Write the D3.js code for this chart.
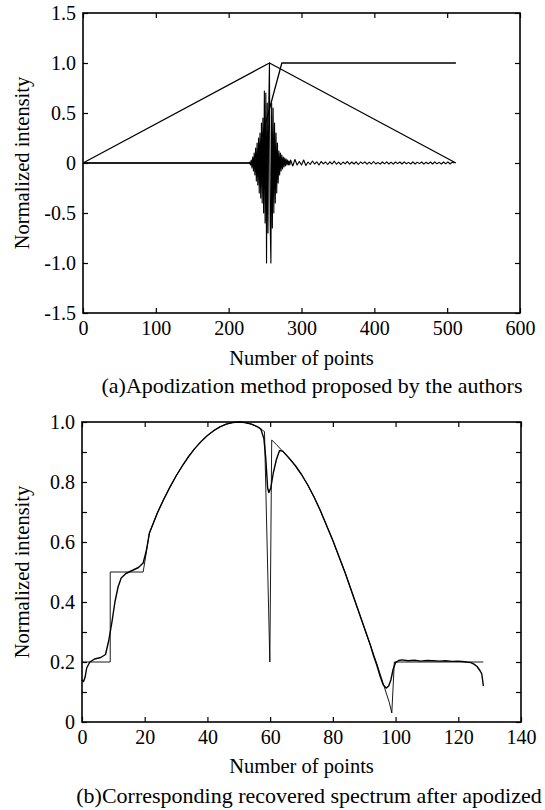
<!DOCTYPE html>
<html>
<head>
<meta charset="utf-8">
<script src="https://d3js.org/d3.v7.min.js"></script>
<style>
  body { margin: 0; background: #fff; }
  svg { display: block; background: #fff; }
</style>
</head>
<body>
<svg id="fig"></svg>
<script>
// ---------- (a) apodization functions + interferogram ----------
const triangleX = [0, 256, 512];
const triangleY = [0, 1, 0];

const rampX = [0, 236, 273, 512];
const rampY = [0, 0, 1, 1];

// interferogram: flat zero, then centre burst (1 point steps), then small tail (3 point steps)
const ifgLeadX = [0];
const ifgLeadY = [0];
const burstStart = 228;
const burstY = [
  0, 0.01, -0.02, 0.03, -0.05, 0.06, -0.08, 0.1, -0.12, 0.15,
  -0.18, 0.2, -0.22, 0.25, -0.3, 0.3, -0.35, 0.4, -0.4, 0.45,
  -0.5, 0.72, -0.6, 0.7, -1.0, 0.6, -0.7, 0.55, 1.0, -0.6,
  -1.0, 0.6, -0.65, 0.55, -0.5, 0.4, -0.4, 0.3, -0.3, 0.2,
  -0.2, 0.12, -0.12, 0.1, -0.08, 0.08, -0.06, 0.06, -0.04, 0.05,
  -0.03, 0.04, -0.02, 0.03, -0.02, 0.02, -0.02
];
const tailStart = 285;
const tailStep = 3;
const tailY = [
  0.03, -0.03, 0.035, -0.02, 0.015, -0.02, 0.03, -0.025, 0.01, -0.015,
  0.02, -0.01, 0.012, -0.02, 0.015, -0.008, 0.01, -0.015, 0.012, -0.01,
  0.018, -0.012, 0.008, -0.015, 0.01, -0.008, 0.015, -0.012, 0.01, -0.01,
  0.012, -0.015, 0.01, -0.006, 0.012, -0.012, 0.008, -0.01, 0.015, -0.01,
  0.006, -0.012, 0.01, -0.008, 0.012, -0.01, 0.008, -0.012, 0.01, -0.006,
  0.01, -0.01, 0.012, -0.008, 0.006, -0.01, 0.012, -0.01, 0.008, -0.006,
  0.01, -0.012, 0.008, -0.008, 0.01, -0.01, 0.012, -0.008, 0.006, -0.01,
  0.01, -0.008, 0.012, -0.01, 0.008, 0
];

const xTicksA = [0, 100, 200, 300, 400, 500, 600];
const yTicksA = [-1.5, -1.0, -0.5, 0, 0.5, 1.0, 1.5];
const yLabelsA = ["-1.5", "-1.0", "-0.5", "0", "0.5", "1.0", "1.5"];

// ---------- (b) original and recovered spectrum ----------
const originalX = [0, 9, 9, 19.5, 21.5, 24, 26, 28, 30, 32, 34, 36, 38, 40, 42, 44, 46, 48, 50,
  52, 54, 56, 58.2, 59.9, 60.5, 62, 63.6, 66, 68, 70, 72, 74, 76, 78, 80, 82, 84, 86, 88, 90,
  92, 94, 96, 98, 98.8, 99.6, 128];
const originalY = [0.2, 0.2, 0.5, 0.5, 0.63, 0.696, 0.741, 0.782, 0.82, 0.854, 0.885, 0.912, 0.935, 0.955, 0.971, 0.984, 0.993, 0.998, 1.0,
  0.998, 0.993, 0.984, 0.968, 0.2, 0.94, 0.925, 0.907, 0.88, 0.855, 0.825, 0.79, 0.75, 0.705, 0.655, 0.605, 0.55, 0.495, 0.435, 0.375, 0.315,
  0.255, 0.195, 0.13, 0.065, 0.03, 0.2, 0.2];

const recoveredX = [0, 0.5, 1, 1.5, 2.5, 4, 6, 7.5, 8.5, 9.5, 10.5, 11.5, 12.5, 14, 16, 18, 19.5, 20.5, 21.5,
  24, 26, 28, 30, 32, 34, 36, 38, 40, 42, 44, 46, 48, 50, 52, 54, 56, 57, 58, 58.6, 59.2, 59.6, 60.2,
  61, 62, 63, 64, 66, 68, 70, 72, 74, 76, 78, 80, 82, 84, 86, 88, 90, 92, 93, 94, 95, 96, 97, 97.8,
  98.5, 99.2, 100, 101, 102, 104, 106, 108, 110, 112, 114, 116, 118, 120, 122, 124, 125, 126, 127, 127.5, 128];
const recoveredY = [0.14, 0.135, 0.15, 0.18, 0.2, 0.21, 0.215, 0.225, 0.27, 0.33, 0.4, 0.45, 0.48, 0.495, 0.505, 0.515, 0.53, 0.57, 0.63,
  0.696, 0.741, 0.782, 0.82, 0.854, 0.885, 0.912, 0.935, 0.955, 0.971, 0.984, 0.993, 0.998, 1.0, 0.998, 0.993, 0.984, 0.977, 0.945, 0.88, 0.78, 0.765, 0.78,
  0.83, 0.875, 0.905, 0.903, 0.88, 0.855, 0.825, 0.79, 0.75, 0.705, 0.655, 0.605, 0.55, 0.495, 0.435, 0.375, 0.315, 0.255, 0.22, 0.19, 0.155, 0.125, 0.113, 0.12,
  0.14, 0.175, 0.198, 0.205, 0.207, 0.204, 0.206, 0.203, 0.205, 0.204, 0.203, 0.204, 0.202, 0.203, 0.201, 0.198, 0.193, 0.185, 0.17, 0.16, 0.12];

const xTicksB = [0, 20, 40, 60, 80, 100, 120, 140];
const yTicksB = [0, 0.1, 0.2, 0.3, 0.4, 0.5, 0.6, 0.7, 0.8, 0.9, 1.0];
const yLabelsB = ["0", "", "0.2", "", "0.4", "", "0.6", "", "0.8", "", "1.0"];

// ---------- drawing ----------
const W = 545, H = 810;
const FONT = "'Liberation Serif', 'Times New Roman', serif";

const svg = d3.select("#fig").attr("width", W).attr("height", H);
svg.append("rect").attr("width", W).attr("height", H).attr("fill", "#fff");

function drawPanel(p) {
  const x = d3.scaleLinear().domain(p.xDomain).range([p.left, p.right]);
  const y = d3.scaleLinear().domain(p.yDomain).range([p.bottom, p.top]);
  const g = svg.append("g");
  const tick = 5;

  // bottom axis with labels, ticks pointing inward
  const bottom = g.append("g")
    .attr("transform", `translate(0,${p.bottom})`)
    .call(d3.axisBottom(x).tickValues(p.xTicks).tickSize(-tick).tickPadding(8)
      .tickFormat(d3.format("d")));
  // top axis, ticks only
  const top = g.append("g")
    .attr("transform", `translate(0,${p.top})`)
    .call(d3.axisTop(x).tickValues(p.xTicks).tickSize(-tick).tickFormat(""));
  // left axis with labels
  const left = g.append("g")
    .attr("transform", `translate(${p.left},0)`)
    .call(d3.axisLeft(y).tickValues(p.yTicks).tickSize(-tick).tickPadding(7)
      .tickFormat((d, i) => p.yLabels[i]));
  // right axis, ticks only
  const right = g.append("g")
    .attr("transform", `translate(${p.right},0)`)
    .call(d3.axisRight(y).tickValues(p.yTicks).tickSize(-tick).tickFormat(""));

  [bottom, top, left, right].forEach((a) => {
    a.select(".domain").remove();
    a.selectAll("line").attr("stroke", "#000").attr("stroke-width", 1.2);
    a.selectAll("text")
      .attr("fill", "#000")
      .style("font-family", FONT)
      .style("font-size", "20px");
  });

  // frame
  g.append("rect")
    .attr("x", p.left).attr("y", p.top)
    .attr("width", p.right - p.left).attr("height", p.bottom - p.top)
    .attr("fill", "none").attr("stroke", "#000").attr("stroke-width", 1.6);

  // series
  const line = d3.line().x((d) => x(d[0])).y((d) => y(d[1]));
  p.series.forEach((s) => {
    g.append("path")
      .datum(s.points)
      .attr("d", line)
      .attr("fill", "none")
      .attr("stroke", "#000")
      .attr("stroke-width", s.width)
      .attr("stroke-linejoin", "round");
  });

  // axis titles and caption
  g.append("text")
    .attr("transform", `translate(${p.yTitleX},${(p.top + p.bottom) / 2}) rotate(-90)`)
    .attr("text-anchor", "middle")
    .style("font-family", FONT).style("font-size", "20.5px")
    .text("Normalized intensity");
  g.append("text")
    .attr("x", (p.left + p.right) / 2).attr("y", p.xTitleY)
    .attr("text-anchor", "middle")
    .style("font-family", FONT).style("font-size", "20.5px")
    .text("Number of points");
  g.append("text")
    .attr("x", p.captionX).attr("y", p.captionY)
    .attr("text-anchor", "middle")
    .style("font-family", FONT).style("font-size", "22px")
    .text(p.caption);
}

const zip = (xs, ys) => xs.map((v, i) => [v, ys[i]]);

const ifgPoints = zip(ifgLeadX, ifgLeadY)
  .concat(burstY.map((v, i) => [burstStart + i, v]))
  .concat(tailY.map((v, i) => [tailStart + i * tailStep, v]));

drawPanel({
  xDomain: [0, 600], yDomain: [-1.5, 1.5],
  left: 83, right: 520, top: 13, bottom: 313,
  xTicks: xTicksA, yTicks: yTicksA, yLabels: yLabelsA,
  yTitleX: 29, xTitleY: 365, captionX: 312, captionY: 393,
  caption: "(a)Apodization method proposed by the authors",
  series: [
    { points: zip(triangleX, triangleY), width: 1.3 },
    { points: zip(rampX, rampY), width: 1.3 },
    { points: ifgPoints, width: 1.1 }
  ]
});

drawPanel({
  xDomain: [0, 140], yDomain: [0, 1],
  left: 82, right: 521, top: 422, bottom: 722,
  xTicks: xTicksB, yTicks: yTicksB, yLabels: yLabelsB,
  yTitleX: 29, xTitleY: 773, captionX: 309, captionY: 803,
  caption: "(b)Corresponding recovered spectrum after apodized",
  series: [
    { points: zip(originalX, originalY), width: 0.9 },
    { points: zip(recoveredX, recoveredY), width: 1.4 }
  ]
});
</script>
</body>
</html>
